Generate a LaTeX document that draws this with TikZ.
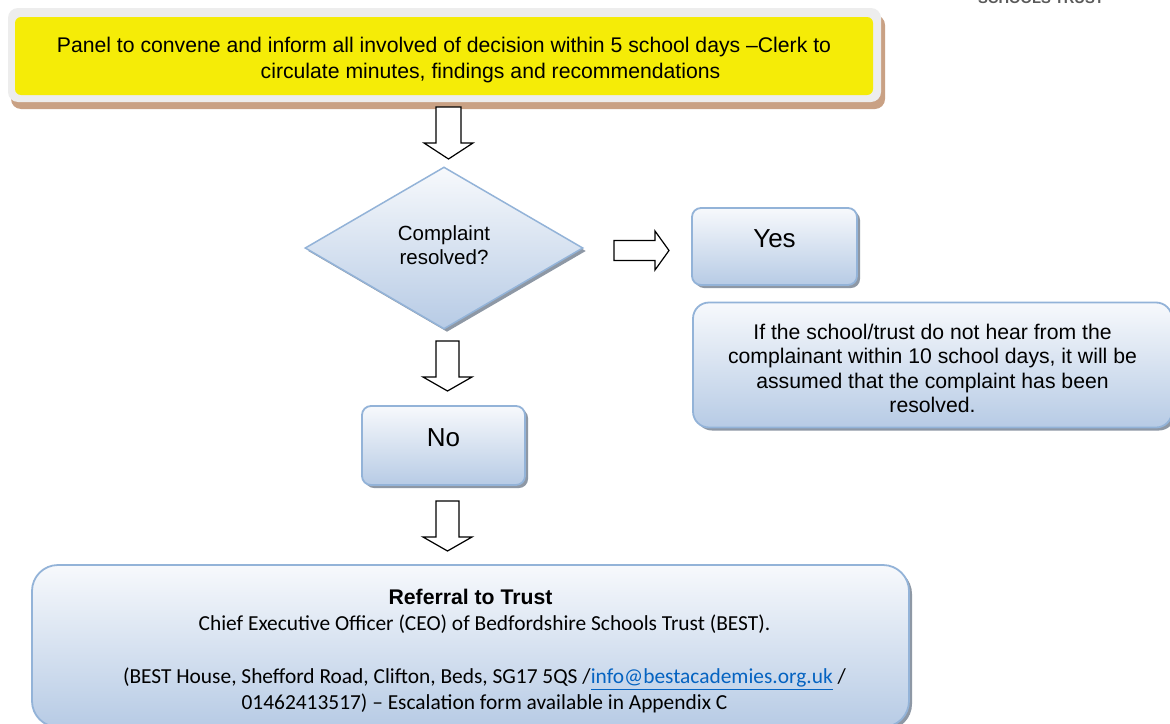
\documentclass[tikz,border=0pt]{standalone}
\usepackage{fontspec}
\setmainfont{Liberation Sans}
\newfontfamily\carlito{Carlito}
\usetikzlibrary{shapes.geometric,shadows,calc}
\definecolor{bordblue}{HTML}{93B3D8}
\definecolor{gradtop}{HTML}{F7F9FC}
\definecolor{gradbot}{HTML}{B7CBE5}
\definecolor{shadowgray}{HTML}{8E98A5}
\definecolor{panelyellow}{HTML}{F5EC07}
\definecolor{framegray}{HTML}{EDEDED}
\definecolor{tanshadow}{HTML}{C9A184}
\definecolor{linkblue}{HTML}{0563C1}
\definecolor{logogray}{HTML}{5A5A5A}
\tikzset{
  bluebox/.style={draw=bordblue, line width=1.8pt, top color=gradtop, bottom color=gradbot,
    drop shadow={shadow xshift=3pt, shadow yshift=-3pt, fill=shadowgray, opacity=1},
    align=center, inner sep=0pt},
  blockarrow/.style={draw=black, fill=white, line width=1.2pt, line join=miter},
  txt/.style={font=\fontsize{21.2}{24.5}\selectfont},
  bigtxt/.style={font=\fontsize{26}{30}\selectfont, text height=19pt, text depth=17pt},
}
\newcommand\vblock[5]{%
  \draw[blockarrow] let \p1=(#1), \p2=(#2) in
    (\x1-#3,\y1) -- (\x1+#3,\y1) -- (\x1+#3,\y2+#5) -- (\x1+#4,\y2+#5) -- (\x2,\y2)
    -- (\x1-#4,\y2+#5) -- (\x1-#3,\y2+#5) -- cycle;}
\newcommand\hblock[5]{%
  \draw[blockarrow] let \p1=(#1), \p2=(#2) in
    (\x1,\y1+#3) -- (\x2-#5,\y1+#3) -- (\x2-#5,\y1+#4) -- (\x2,\y2)
    -- (\x2-#5,\y1-#4) -- (\x2-#5,\y1-#3) -- (\x1,\y1-#3) -- cycle;}
\begin{document}
\begin{tikzpicture}[x=1pt,y=-1pt]
\useasboundingbox[fill=white] (0,0) rectangle (1170,723);

% logo fragment
\node[anchor=base, font=\fontsize{14.7}{16}\selectfont\bfseries, text=logogray, inner sep=0pt] (logo) at (1041,3.5) {SCHOOLS TRUST};

% top panel
\path[fill=tanshadow, rounded corners=10pt] (11,15) rectangle (885,109);
\path[fill=framegray, rounded corners=10pt] (8,8) rectangle (881,102);
\node[fill=panelyellow, rounded corners=6pt, minimum width=858pt, minimum height=78pt, inner sep=0pt,
  align=center, font=\fontsize{21.2}{26}\selectfont] (panel) at (444,56)
  {\rule{0pt}{23.5pt}Panel to convene and inform all involved of decision within 5 school days \textendash Clerk to\\
   \hspace*{93pt}circulate minutes, findings and recommendations};

% decision
\node[bluebox, diamond, line width=1.5pt, minimum width=278pt, minimum height=162pt,
  font=\fontsize{20.5}{24}\selectfont] (dia) at (444,248) {Complaint\\resolved?\rule[-5pt]{0pt}{5pt}};

\node[bluebox, rounded corners=9pt, minimum width=165pt, minimum height=77pt, bigtxt] (yes) at (774.5,246.5) {Yes};

\node[bluebox, rounded corners=16pt, minimum width=479pt, minimum height=125pt, txt] (res) at (932.5,365)
  {\rule{0pt}{22.5pt}If the school/trust do not hear from the\\
   complainant within 10 school days, it will be\\
   assumed that the complaint has been\\
   resolved.};

\node[bluebox, rounded corners=9pt, minimum width=163pt, minimum height=79pt, bigtxt] (no) at (443.5,445.5) {No};

\node[bluebox, rounded corners=26pt, minimum width=877pt, minimum height=162pt,
  font=\fontsize{21.2}{26}\selectfont] (ref) at (470.5,646)
  {\rule{0pt}{26pt}\textbf{Referral to Trust}\\
   \hspace*{28pt}{\carlito\fontsize{21.4}{26}\selectfont Chief Executive Officer (CEO) of Bedfordshire Schools Trust (BEST).}\\[27pt]
   \hspace*{28pt}{\carlito\fontsize{21.4}{26}\selectfont (BEST House, Shefford Road, Clifton, Beds, SG17 5QS /\textcolor{linkblue}{\underline{info@bestacademies.org.uk}} /}\\
   \hspace*{28pt}{\carlito\fontsize{21.4}{26}\selectfont 01462413517) \textendash{} Escalation form available in Appendix C}};

% block-arrow connectors
\coordinate (a1s) at (448.5,107); \coordinate (a1e) at (448.5,159);
\coordinate (a2s) at (447.5,341); \coordinate (a2e) at (447.5,391);
\coordinate (a3s) at (447.5,501); \coordinate (a3e) at (447.5,551);
\coordinate (ahs) at (614,250.5); \coordinate (ahe) at (669,250.5);
\vblock{a1s}{a1e}{12.5pt}{24.5pt}{16pt}
\vblock{a2s}{a2e}{11.5pt}{24.5pt}{14pt}
\vblock{a3s}{a3e}{11.5pt}{24.5pt}{14pt}
\hblock{ahs}{ahe}{10pt}{19.5pt}{14pt}
\end{tikzpicture}
\end{document}
